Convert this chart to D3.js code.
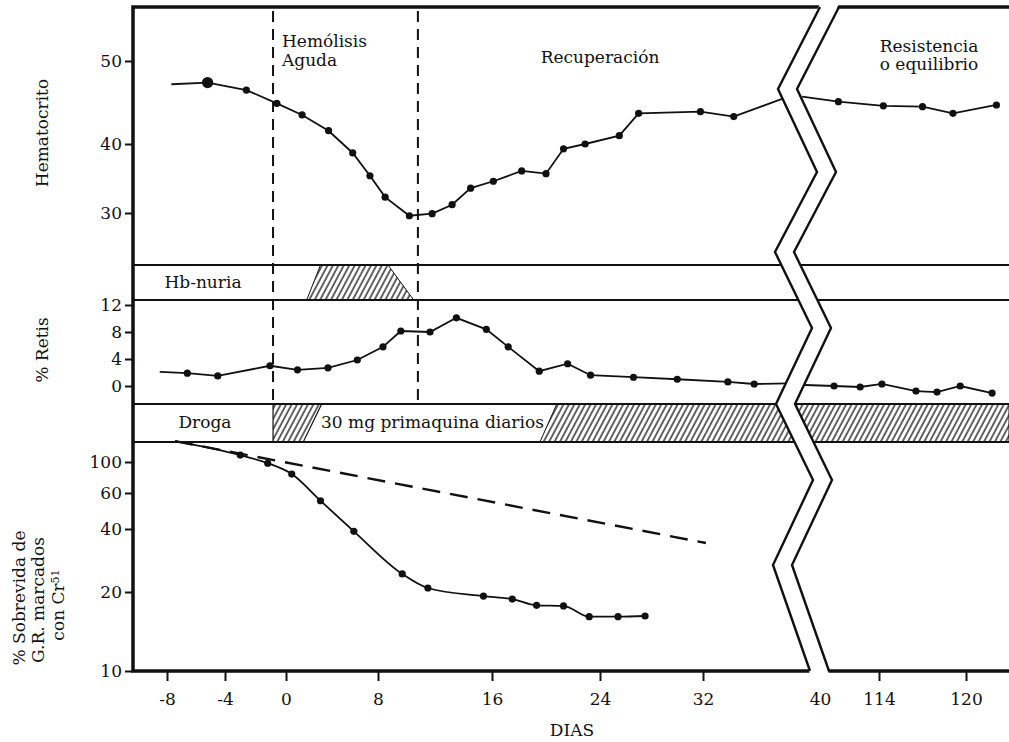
<!DOCTYPE html>
<html>
<head>
<meta charset="utf-8">
<script src="https://cdn.jsdelivr.net/npm/d3@7"></script>
<style>
  body { margin: 0; background: #fff; }
  text { font-family: "DejaVu Serif", serif; fill: #111; }
</style>
</head>
<body>
<svg id="chart" width="1009" height="742"></svg>
<script>
// ---- data ----
var xTicksLeft = [-8, -4, 0, 8, 16, 24, 32, 40];
var xTicksRight = [114, 120];
var hctTicks = [30, 40, 50];
var retTicks = [0, 4, 8, 12];
var survTicks = [10, 20, 40, 60, 100];

// hematocrito, left of the break (first and last point have no marker)
var hctDays = [-7.7, -5.2, -2.6, -0.6, 1.4, 3.7, 5.8, 7.3, 8.5, 10.2, 11.8, 13.2, 14.5, 16.1, 18.2, 20.0, 21.3, 22.9, 25.5, 27.0, 31.8, 34.1, 37.5];
var hctVals = [47.2, 47.4, 46.5, 44.9, 43.5, 41.6, 38.7, 35.4, 32.3, 29.6, 29.9, 31.2, 33.6, 34.6, 36.1, 35.7, 39.3, 40.0, 41.0, 43.7, 43.9, 43.3, 45.5];
// hematocrito, right of the break (first point has no marker)
var hctDaysR = [108.7, 111.2, 114.3, 117.0, 119.1, 122.1];
var hctValsR = [45.7, 45.1, 44.6, 44.5, 43.7, 44.7];

// % retis
var retDays = [-8.5, -6.6, -4.5, -1.05, 1.0, 3.65, 6.2, 8.35, 9.6, 11.65, 13.5, 15.6, 17.2, 19.5, 21.6, 23.3, 26.6, 30.0, 33.7, 35.5, 37.8];
var retVals = [2.1, 1.9, 1.5, 3.0, 2.4, 2.7, 3.85, 5.8, 8.15, 8.0, 10.1, 8.4, 5.8, 2.2, 3.3, 1.6, 1.3, 1.0, 0.6, 0.3, 0.4];
var retDaysR = [108.9, 110.9, 112.7, 114.2, 116.55, 118.0, 119.6, 121.8];
var retValsR = [0.15, 0.0, -0.15, 0.3, -0.75, -0.9, 0.0, -1.05];

// % sobrevida G.R. marcados con Cr51 (first point has no marker)
var survDays = [-7.45, -3.0, -1.2, 0.5, 3.0, 5.9, 9.7, 11.5, 15.4, 17.5, 19.3, 21.3, 23.2, 25.4, 27.5];
var survVals = [141, 112, 98, 82, 55, 39, 24.4, 20.9, 19.3, 18.8, 17.8, 17.7, 16.1, 16.1, 16.2];
var survExpDays = [-7.45, 32.2];
var survExpVals = [141, 34.3];

// phases and bands (days)
var phaseDays = [-0.85, 10.8];
var hbDays = [1.8, 3.0, 8.7, 10.5];        // bottom-left, top-left, top-right, bottom-right
var drug1Days = [-0.85, 3.1, 1.5];        // left, top-right, bottom-right
var drug2Days = [20.8, 19.55];            // top-left, bottom-left

// ---- layout ----
var svg = d3.select("#chart");
var frameL = 133, frameT = 7, frameB = 671, frameR = 1009;
var hbTop = 265, hbBot = 300, drTop = 404, drBot = 442;
var ink = "#111";

var x = d3.scaleLinear().domain(xTicksLeft).range([167, 225, 286, 378, 492, 600, 703, 820]);
var xR = d3.scaleLinear().domain(xTicksRight).range([879, 966]);
var yH = d3.scaleLinear().domain(hctTicks).range([213, 144, 61]);
var yR = d3.scaleLinear().domain([0, 12]).range([386, 305]);
var yS = d3.scaleLog().domain(survTicks).range([671, 592, 529, 493, 462]);
var plain = function(d) { return String(d); };

var defs = svg.append("defs");
defs.append("pattern")
    .attr("id", "hatch")
    .attr("patternUnits", "userSpaceOnUse")
    .attr("width", 4.8)
    .attr("height", 10)
    .attr("patternTransform", "rotate(28)")
  .append("line")
    .attr("x1", 1).attr("y1", 0).attr("x2", 1).attr("y2", 10)
    .attr("stroke", ink).attr("stroke-width", 1.3);

// hatched regions
svg.append("polygon")
    .attr("points", [[x(hbDays[0]), hbBot], [x(hbDays[1]), hbTop], [x(hbDays[2]), hbTop], [x(hbDays[3]), hbBot]].join(" "))
    .attr("fill", "url(#hatch)").attr("stroke", ink).attr("stroke-width", 1);
svg.append("polygon")
    .attr("points", [[x(drug1Days[0]), drTop], [x(drug1Days[1]), drTop], [x(drug1Days[2]), drBot], [x(drug1Days[0]), drBot]].join(" "))
    .attr("fill", "url(#hatch)").attr("stroke", ink).attr("stroke-width", 1.2);
svg.append("polygon")
    .attr("points", [[x(drug2Days[0]), drTop], [frameR, drTop], [frameR, drBot], [x(drug2Days[1]), drBot]].join(" "))
    .attr("fill", "url(#hatch)").attr("stroke", ink).attr("stroke-width", 1);

// band lines
[hbTop, hbBot, drTop, drBot].forEach(function(yy) {
    svg.append("line")
        .attr("x1", frameL).attr("x2", frameR)
        .attr("y1", yy).attr("y2", yy)
        .attr("stroke", ink).attr("stroke-width", 2);
});

// frame
svg.append("path")
    .attr("d", "M" + frameR + "," + frameT + "H" + frameL + "V" + frameB + "H" + frameR)
    .attr("fill", "none").attr("stroke", ink).attr("stroke-width", 3.5);

// phase dashed lines
phaseDays.forEach(function(d) {
    svg.append("line")
        .attr("x1", x(d)).attr("x2", x(d))
        .attr("y1", frameT + 4).attr("y2", drTop)
        .attr("stroke", ink).attr("stroke-width", 2).attr("stroke-dasharray", "11,7");
});

// axes
function styleAxis(g) {
    g.select(".domain").remove();
    g.selectAll(".tick line").attr("stroke", ink).attr("stroke-width", 2);
    g.selectAll(".tick text").attr("font-family", "DejaVu Serif").attr("font-size", 17).attr("fill", ink);
}
svg.append("g").attr("transform", "translate(" + frameL + ",0)")
    .call(d3.axisLeft(yH).tickValues(hctTicks).tickFormat(plain).tickSize(8).tickPadding(3))
    .call(styleAxis);
svg.append("g").attr("transform", "translate(" + frameL + ",0)")
    .call(d3.axisLeft(yR).tickValues(retTicks).tickFormat(plain).tickSize(8).tickPadding(3))
    .call(styleAxis);
svg.append("g").attr("transform", "translate(" + frameL + ",0)")
    .call(d3.axisLeft(yS).tickValues(survTicks).tickFormat(plain).tickSize(8).tickPadding(3))
    .call(styleAxis);
var gx = svg.append("g").attr("transform", "translate(0," + frameB + ")")
    .call(d3.axisBottom(x).tickValues(xTicksLeft).tickFormat(plain).tickSize(10).tickPadding(12))
    .call(styleAxis);
gx.selectAll(".tick").filter(function(d) { return d === 40; }).select("line").remove();
svg.append("g").attr("transform", "translate(0," + frameB + ")")
    .call(d3.axisBottom(xR).tickValues(xTicksRight).tickFormat(plain).tickSize(10).tickPadding(12))
    .call(styleAxis);

// series
function drawSeries(xs, days, vals, ys, skipFirst, skipLast, curve) {
    var pts = days.map(function(d, i) { return [xs(d), ys(vals[i])]; });
    svg.append("path")
        .attr("d", d3.line().curve(curve || d3.curveLinear)(pts))
        .attr("fill", "none").attr("stroke", ink).attr("stroke-width", 1.8);
    var marked = pts.filter(function(p, i) {
        return !(skipFirst && i === 0) && !(skipLast && i === pts.length - 1);
    });
    svg.selectAll(null).data(marked).enter().append("circle")
        .attr("cx", function(p) { return p[0]; })
        .attr("cy", function(p) { return p[1]; })
        .attr("r", 3.6).attr("fill", ink);
}
drawSeries(x, hctDays, hctVals, yH, true, true);
drawSeries(xR, hctDaysR, hctValsR, yH, true, false);
drawSeries(x, retDays, retVals, yR, true, true);
drawSeries(xR, retDaysR, retValsR, yR, true, false);
drawSeries(x, survDays, survVals, yS, true, false, d3.curveMonotoneX);

// first hematocrit reading marked bigger
svg.append("circle").attr("cx", x(hctDays[1])).attr("cy", yH(hctVals[1])).attr("r", 5.6).attr("fill", ink);

// expected survival (dashed)
svg.append("path")
    .attr("d", d3.line()(survExpDays.map(function(d, i) { return [x(d), yS(survExpVals[i])]; })))
    .attr("fill", "none").attr("stroke", ink).attr("stroke-width", 2.4).attr("stroke-dasharray", "18,10");

// axis break (double zigzag)
var brkY = [frameT, 89, 172, 252, 328, 404, 480, 565, frameB];
var brkX = [820, 778, 817, 775, 812, 776, 813, 773, 810];
var brkGap = 19;
var leftPts = brkX.map(function(bx, i) { return [bx, brkY[i]]; });
var rightPts = brkX.map(function(bx, i) { return [bx + brkGap, brkY[i]]; });
var fillPts = leftPts.map(function(p) { return p.slice(); }).concat(rightPts.slice().reverse().map(function(p) { return p.slice(); }));
fillPts[0][1] -= 3; fillPts[fillPts.length - 1][1] -= 3;
fillPts[brkX.length - 1][1] += 3; fillPts[brkX.length][1] += 3;
svg.append("polygon").attr("points", fillPts.join(" ")).attr("fill", "#fff");
[leftPts, rightPts].forEach(function(pts) {
    svg.append("path").attr("d", d3.line()(pts))
        .attr("fill", "none").attr("stroke", ink).attr("stroke-width", 2.4);
});

// texts
function label(txt, tx, ty, anchor) {
    return svg.append("text").attr("x", tx).attr("y", ty)
        .attr("text-anchor", anchor || "start")
        .attr("font-size", 17).text(txt);
}
label("Hemólisis", 282, 47);
label("Aguda", 282, 66);
label("Recuperación", 600, 63, "middle");
label("Resistencia", 929, 52, "middle");
label("o equilibrio", 929, 70, "middle");
label("Hb-nuria", 203, 288, "middle");
label("Droga", 205, 428, "middle");
label("30 mg primaquina diarios", 321, 428);
label("DIAS", 572, 736, "middle");

function vlabel(txt, tx, ty) {
    return svg.append("text")
        .attr("transform", "translate(" + tx + "," + ty + ") rotate(-90)")
        .attr("text-anchor", "middle").attr("font-size", 17).text(txt);
}
vlabel("Hematocrito", 48, 133);
vlabel("% Retis", 48, 350);
vlabel("% Sobrevida de", 25, 598);
vlabel("G.R. marcados", 44, 600);
var cr = vlabel("con Cr", 64, 605);
cr.append("tspan").attr("font-size", 11).attr("dy", -5).text("51");
</script>
</body>
</html>
